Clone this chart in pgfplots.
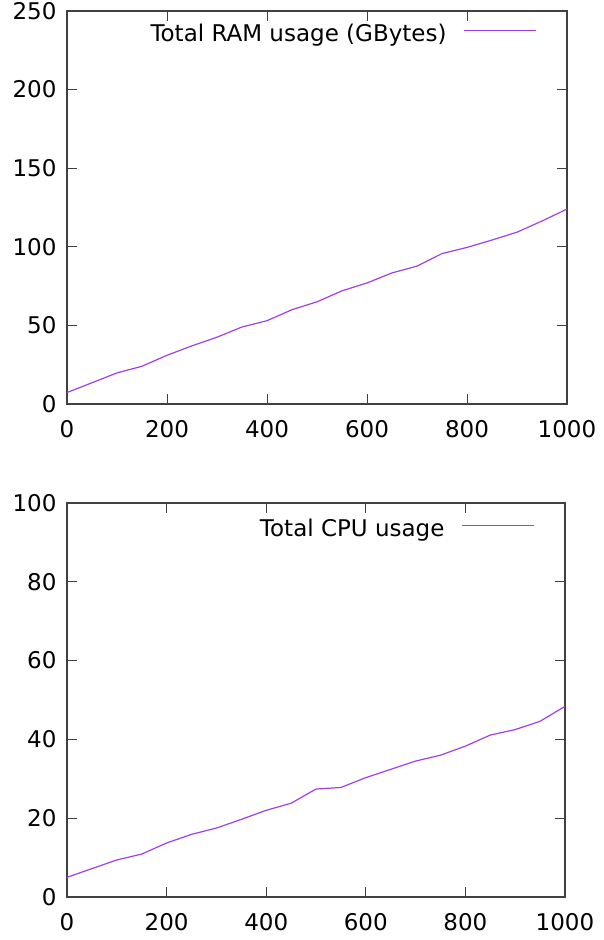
\documentclass[border=0pt]{standalone}
\usepackage{pgfplots}
\pgfplotsset{compat=1.18}
\usepackage{fontspec}
\setmainfont{DejaVu Sans}
\definecolor{gpviolet}{HTML}{A040E8}
\definecolor{gpframe}{HTML}{404040}
\pgfplotsset{
  gp/.style={
    scale only axis, width=500pt,
    xmin=0, xmax=1000, xtick={0,200,...,1000},
    tick align=inside, major tick length=10pt,
    axis line style={gpframe, line width=1.3pt},
    every tick/.style={gpframe, line width=1pt},
    /pgf/number format/assume math mode=true,
    /pgf/number format/1000 sep={},
    xticklabel style={yshift=-13pt},
    yticklabel style={xshift=-7pt},
    legend style={draw=none, fill=none, inner sep=0pt,
      nodes={inner sep=0pt}, column sep=17pt,
      at={(1,1)}, anchor=north east,
      xshift=-30pt, yshift=-13pt, legend cell align=right},
    legend plot pos=right,
    legend image code/.code={\draw[#1, line width=1.3pt] (0pt,0.6ex) -- (72pt,0.6ex);},
  },
}
\begin{document}
\begin{tikzpicture}[font=\fontsize{23}{27}\selectfont]
\useasboundingbox (-67pt,-536pt) rectangle (537pt,404pt);
\begin{axis}[gp, height=393pt, ymin=0, ymax=250, ytick={0,50,...,250}]
  \addplot[color=gpviolet, line width=1.2pt] coordinates {
    (0, 7.3) (50, 13.5) (100, 19.8) (150, 24) (200, 31) (250, 37)
    (300, 42.5) (350, 49) (400, 53) (450, 60) (500, 65) (550, 72)
    (600, 77) (650, 83.4) (700, 87.7) (750, 95.7) (800, 99.6)
    (850, 104.3) (900, 109.3) (950, 116.4) (1000, 124)
  };
  \addlegendentry{Total RAM usage (GBytes)}
\end{axis}
\begin{axis}[gp, at={(0,-493pt)}, width=498pt, height=394pt, ymin=0, ymax=100, ytick={0,20,...,100},
  legend style={yshift=-3pt}]
  \addplot[color=gpviolet, line width=1.2pt] coordinates {
    (0, 5.0) (50, 7.2) (100, 9.4) (150, 10.9) (200, 13.7) (250, 15.9)
    (300, 17.5) (350, 19.7) (400, 22.0) (450, 23.8) (500, 27.4)
    (550, 27.8) (600, 30.3) (650, 32.4) (700, 34.5) (750, 36.0)
    (800, 38.3) (850, 41.1) (900, 42.5) (950, 44.6) (1000, 48.4)
  };
  \addlegendentry{Total CPU usage}
\end{axis}
\end{tikzpicture}
\end{document}
